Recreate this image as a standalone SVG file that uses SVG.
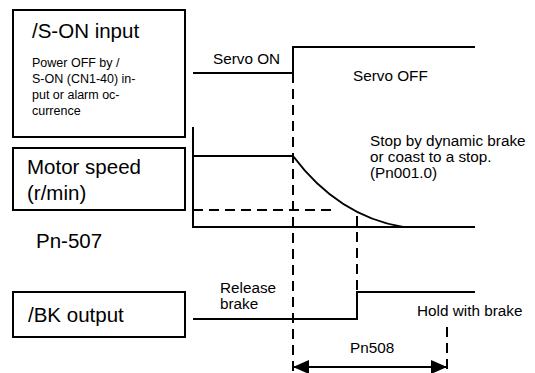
<svg xmlns="http://www.w3.org/2000/svg" width="535" height="373" viewBox="0 0 535 373">
<style>
.box{fill:#fff;stroke:#000;stroke-width:2}
.sig{fill:none;stroke:#000;stroke-width:2}
.dash{fill:none;stroke:#000;stroke-width:2;stroke-dasharray:10 6}
text{font-family:"Liberation Sans",Arial,Helvetica,sans-serif;fill:#000}
.big{font-size:20.5px}
.mid{font-size:15.3px}
.sm{font-size:12.5px}
</style>
<defs>
<marker id="ah" viewBox="0 0 16 14" refX="16" refY="7" markerWidth="16" markerHeight="14" markerUnits="userSpaceOnUse" orient="auto-start-reverse">
<path d="M0,0 L16,7 L0,14 Z" fill="#000"/>
</marker>
</defs>
<g id="node-son">
<rect class="box" x="13" y="10" width="172" height="127"/>
<text class="big" x="32" y="38">/S-ON input</text>
<text class="sm" x="32" y="67">Power OFF by /</text>
<text class="sm" x="32" y="83">S-ON (CN1-40) in-</text>
<text class="sm" x="32" y="99">put or alarm oc-</text>
<text class="sm" x="32" y="115">currence</text>
</g>
<g id="node-speed">
<rect class="box" x="13" y="148" width="172" height="62"/>
<text class="big" x="27" y="174">Motor speed</text>
<text class="big" x="27" y="200">(r/min)</text>
</g>
<g id="node-bk">
<rect class="box" x="13" y="292" width="172" height="45"/>
<text class="big" x="28" y="322">/BK output</text>
</g>
<g id="connectors">
<path class="sig" d="M193,73 H293 V47 H475"/>
<path class="dash" d="M293,73 V373"/>
<path class="sig" d="M193,127 V227 H475"/>
<path class="sig" d="M193,156 H293 Q338,216 403,227"/>
<path class="dash" d="M193,210 H333"/>
<path class="dash" d="M357,216 V292"/>
<path class="sig" d="M193,319 H357 V292 H475"/>
<path class="dash" d="M447,327 V373"/>
<path class="sig" d="M293,367 H447" marker-start="url(#ah)" marker-end="url(#ah)"/>
</g>
<g id="labels">
<text class="mid" x="213" y="64">Servo ON</text>
<text class="mid" x="353" y="81">Servo OFF</text>
<text class="mid" x="370" y="146">Stop by dynamic brake</text>
<text class="mid" x="370" y="162">or coast to a stop.</text>
<text class="mid" x="370" y="178">(Pn001.0)</text>
<text class="big" x="36" y="248">Pn-507</text>
<text class="mid" x="220" y="293">Release</text>
<text class="mid" x="220" y="309">brake</text>
<text class="mid" x="417" y="316">Hold with brake</text>
<text class="mid" x="350" y="353">Pn508</text>
</g>
</svg>
